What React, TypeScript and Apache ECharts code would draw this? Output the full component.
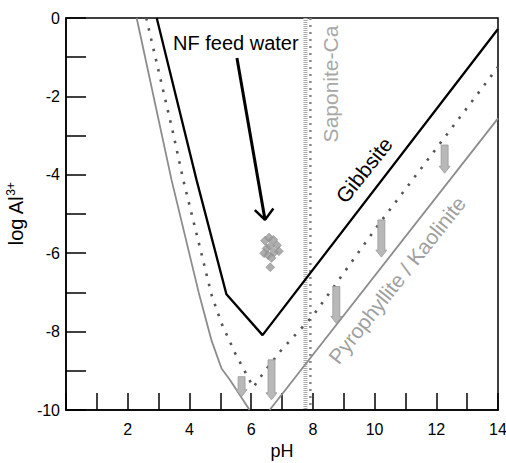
import React, { useEffect, useRef } from "react";
import * as echarts from "echarts";

// pH, log Al3+
const gibbsite: number[][] = [[2.94, 0], [4.23, -4.13], [5.2, -7.05], [6.37, -8.09], [14, -0.28]];
const dottedBoundary: number[][] = [
  [2.6, 0], [3.47, -2.93], [3.8, -4.13], [4.72, -7.07], [5.04, -7.79], [5.48, -8.55],
  [5.8, -9.02], [6.07, -9.42], [6.4, -9.05], [7.0, -8.45], [8.0, -7.6], [10.1, -5.3], [14, -1.25],
];
const leftGray: number[][] = [[2.29, 0], [3.42, -4.13], [4.3, -7.0], [4.71, -8.21], [5.04, -8.94], [5.31, -9.23], [5.95, -10]];
const pyrophylliteKaolinite: number[][] = [[6.6, -10], [14, -2.56]];
const saponitePH = [7.76, 7.92];
const feedWater: number[][] = [
  [6.45, -5.68], [6.58, -5.6], [6.72, -5.66], [6.84, -5.8], [6.9, -5.95], [6.5, -5.88],
  [6.62, -5.82], [6.74, -5.98], [6.42, -6.0], [6.55, -6.05], [6.66, -6.12], [6.62, -6.36],
];
const arrowPH = [5.69, 6.66, 8.76, 10.22, 12.27];
const arrowFrom = [-9.15, -8.72, -6.85, -5.15, -3.24];
const arrowTo = [-9.66, -9.74, -7.79, -6.1, -3.96];
const calloutShaft: number[][] = [[5.54, -1.02], [6.45, -5.15]];
const calloutHead: number[][] = [[6.12, -4.9], [6.45, -5.15], [6.72, -4.86]];

const FONT = "'Liberation Sans', Arial, Helvetica, sans-serif";

export default function App() {
  const ref = useRef<HTMLDivElement>(null);
  useEffect(() => {
    if (!ref.current) return;
    const chart = echarts.init(ref.current, undefined, { renderer: "svg" });
    const arrowData = arrowPH.map((x, i) => [x, arrowFrom[i], arrowTo[i]]);
    chart.setOption({
      animation: false,
      backgroundColor: "#fff",
      textStyle: { fontFamily: FONT },
      grid: {
        left: 66, right: 8, top: 18, bottom: 53, show: true, borderColor: "#000", borderWidth: 1.5,
        containLabel: false, outerBoundsMode: "none",
      },
      xAxis: {
        type: "value", min: 0, max: 14, interval: 1,
        name: "pH", nameLocation: "middle", nameGap: 32,
        nameTextStyle: { fontSize: 18, color: "#000", fontFamily: FONT },
        axisLine: { onZero: false, lineStyle: { color: "#000", width: 1.5 } },
        axisTick: { inside: true, length: 17, lineStyle: { color: "#000", width: 1.5 } },
        axisLabel: {
          fontSize: 16, color: "#000", margin: 11, fontFamily: FONT,
          formatter: (v: number) => (v > 0 && v % 2 === 0 ? String(v) : ""),
        },
        splitLine: { show: false },
      },
      yAxis: {
        type: "value", min: -10, max: 0, interval: 1,
        name: "{n|log Al}{s|3+}", nameLocation: "middle", nameGap: 30, nameRotate: 90,
        nameTextStyle: {
          color: "#000", fontFamily: FONT,
          rich: {
            n: { fontSize: 20, color: "#000", fontFamily: FONT },
            s: { fontSize: 12, color: "#000", fontFamily: FONT, verticalAlign: "bottom", padding: [0, 0, 10, 0] },
          },
        },
        axisLine: { onZero: false, lineStyle: { color: "#000", width: 1.5 } },
        axisTick: { inside: true, length: 20, lineStyle: { color: "#000", width: 1.5 } },
        axisLabel: {
          fontSize: 16, color: "#000", margin: 6, fontFamily: FONT,
          formatter: (v: number) => (v % 2 === 0 ? String(v) : ""),
        },
        splitLine: { show: false },
      },
      series: [
        {
          type: "line", data: saponitePH.slice(0, 1).flatMap((x) => [[x, 0], [x, -10]]),
          symbol: "none", lineStyle: { color: "#aaa", width: 4, type: [1, 1] }, z: 2,
        },
        {
          type: "line", data: saponitePH.slice(1).flatMap((x) => [[x, 0], [x, -10]]),
          symbol: "none", lineStyle: { color: "#888", width: 2.5, type: [2, 5] }, z: 2,
        },
        { type: "line", data: leftGray, symbol: "none", lineStyle: { color: "#8c8c8c", width: 1.8 }, z: 3 },
        { type: "line", data: pyrophylliteKaolinite, symbol: "none", lineStyle: { color: "#8c8c8c", width: 1.8 }, z: 3 },
        { type: "line", data: dottedBoundary, symbol: "none", lineStyle: { color: "#555", width: 2.6, type: [2.5, 8] }, z: 3 },
        { type: "line", data: gibbsite, symbol: "none", lineStyle: { color: "#000", width: 2.3 }, z: 4 },
        {
          type: "custom", data: arrowData, encode: { x: 0, y: [1, 2] }, z: 5,
          renderItem: (params: any, api: any) => {
            const p1 = api.coord([api.value(0), api.value(1)]);
            const p2 = api.coord([api.value(0), api.value(2)]);
            const sw = 3.5, hw = 5.5, hl = 7;
            const cx = p1[0];
            const points = [
              [cx - sw, p1[1]], [cx + sw, p1[1]], [cx + sw, p2[1] - hl], [cx + hw, p2[1] - hl],
              [cx, p2[1]], [cx - hw, p2[1] - hl], [cx - sw, p2[1] - hl],
            ];
            return { type: "polygon", shape: { points }, style: { fill: "#b8b8b8", stroke: "#999", lineWidth: 0.8 } };
          },
        },
        {
          type: "scatter", data: feedWater, symbol: "diamond", symbolSize: 9,
          itemStyle: { color: "#9a9a9a", borderColor: "#777", borderWidth: 0.5 }, z: 5,
        },
        { type: "line", data: calloutShaft, symbol: "none", lineStyle: { color: "#000", width: 3 }, z: 6 },
        { type: "line", data: calloutHead, symbol: "none", lineStyle: { color: "#000", width: 2.5 }, z: 6 },
      ],
      graphic: [
        { type: "text", x: 173, y: 43, z: 10, style: { text: "NF feed water", fontSize: 20, fontFamily: FONT, fill: "#000", align: "left", verticalAlign: "middle" } },
        { type: "text", x: 330, y: 84, rotation: Math.PI / 2, z: 10, style: { text: "Saponite-Ca", fontSize: 21, fontFamily: FONT, fill: "#a8a8a8", align: "center", verticalAlign: "middle" } },
        { type: "text", x: 364, y: 170, rotation: 0.9, z: 10, style: { text: "Gibbsite", fontSize: 21, fontFamily: FONT, fill: "#000", align: "center", verticalAlign: "middle" } },
        { type: "text", x: 397, y: 280, rotation: 0.9, z: 10, style: { text: "Pyrophyllite / Kaolinite", fontSize: 21, fontFamily: FONT, fill: "#a0a0a0", align: "center", verticalAlign: "middle" } },
      ],
    });
    return () => chart.dispose();
  }, []);
  return <div ref={ref} style={{ width: 506, height: 463, position: "absolute", left: 0, top: 0 }} />;
}
